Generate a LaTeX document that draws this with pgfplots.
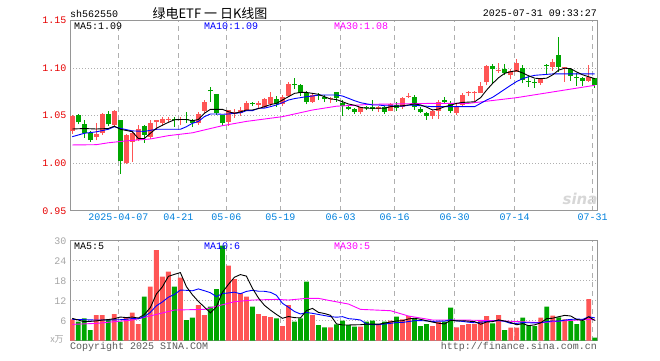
\documentclass[border=0pt]{standalone}
\usepackage{pgfplots}
\pgfplotsset{compat=1.18}
\usepackage{pgfplotstable}
\usepackage{fontspec}
\setmainfont{Liberation Mono}
\newfontfamily\cjk{Noto Sans CJK SC}
\newfontfamily\djv{DejaVu Sans}
\definecolor{cup}{RGB}{255,85,85}
\definecolor{cdn}{RGB}{0,166,0}
\definecolor{grd}{RGB}{175,175,175}
\definecolor{frm}{RGB}{150,150,150}
\definecolor{dblue}{RGB}{0,128,220}
\definecolor{tred}{RGB}{230,0,0}
\definecolor{mag}{RGB}{255,0,255}
\definecolor{vgray}{RGB}{165,165,165}
\definecolor{cgray}{RGB}{90,90,90}

% i open high low close volume
\pgfplotstableread{
i o h l c v
0 1.034 1.051 1.031 1.050 6.4
4 1.028 1.042 1.024 1.031 7.7
5 1.0315 1.053 1.030 1.0515 7.7
7 1.040 1.0565 1.039 1.055 8.0
9 1.0006 1.031 0.999 1.0297 6.9
10 1.0226 1.033 1.0016 1.0315 8.4
11 1.0244 1.040 1.023 1.0357 5.0
13 1.0279 1.0455 1.026 1.0426 16.2
14 1.043 1.046 1.035 1.0455 27.2
15 1.042 1.049 1.039 1.0463 19.2
16 1.0455 1.0485 1.043 1.046 20.7
18 1.045 1.049 1.040 1.0468 18.9
21 1.042 1.054 1.040 1.0517 10.7
22 1.0553 1.0665 1.053 1.0647 7.7
26 1.0437 1.0565 1.0395 1.056 22.5
27 1.0515 1.0575 1.048 1.0536 18.5
28 1.0525 1.0595 1.050 1.056 14.2
29 1.056 1.066 1.055 1.063 13.2
31 1.0613 1.065 1.058 1.0637 8.0
32 1.0595 1.069 1.058 1.0673 7.4
33 1.062 1.0753 1.0595 1.070 7.1
35 1.062 1.0715 1.060 1.0694 4.4
36 1.0707 1.0858 1.0694 1.0834 10.7
40 1.0647 1.0735 1.0635 1.0718 7.7
43 1.0675 1.070 1.063 1.0686 4.0
48 1.054 1.0595 1.0515 1.0588 4.2
51 1.0575 1.060 1.054 1.059 4.7
53 1.0553 1.0635 1.0545 1.0623 6.0
55 1.0595 1.070 1.057 1.0683 6.4
56 1.070 1.0735 1.0685 1.0712 7.4
60 1.050 1.0565 1.0465 1.0553 4.4
61 1.0553 1.0665 1.047 1.0647 5.7
64 1.0532 1.062 1.0505 1.0602 4.0
65 1.0613 1.0735 1.0605 1.0718 4.7
66 1.0735 1.0765 1.0705 1.0742 5.0
67 1.0735 1.0765 1.065 1.0745 5.0
68 1.0737 1.0855 1.0735 1.0813 6.0
69 1.0850 1.1035 1.082 1.1020 7.4
71 1.0970 1.1054 1.0953 1.0976 7.7
73 1.0925 1.0995 1.0885 1.0974 3.9
74 1.0963 1.1095 1.0960 1.1050 3.9
78 1.0842 1.0900 1.0826 1.0884 6.9
80 1.1016 1.110 1.0968 1.1068 7.5
82 1.1006 1.1016 1.0858 1.1016 6.4
86 1.0868 1.1034 1.0850 1.0910 12.5
}\up

\pgfplotstableread{
i o h l c v
1 1.051 1.052 1.041 1.043 5.7
2 1.041 1.0455 1.027 1.032 6.7
3 1.0315 1.034 1.0226 1.0244 3.2
6 1.0515 1.055 1.039 1.041 6.4
8 1.0455 1.046 0.9886 1.0026 5.7
12 1.0392 1.040 1.0216 1.0297 13.2
17 1.0465 1.049 1.038 1.0455 16.2
19 1.047 1.054 1.042 1.045 6.2
20 1.0455 1.047 1.038 1.0426 6.9
23 1.0765 1.080 1.0647 1.0755 10.2
24 1.0728 1.0728 1.0505 1.053 15.5
25 1.0507 1.051 1.039 1.0426 28.5
30 1.063 1.0645 1.060 1.062 10.2
34 1.0673 1.0705 1.0595 1.062 6.7
37 1.0834 1.090 1.078 1.0823 5.7
38 1.0823 1.083 1.0707 1.0742 6.7
39 1.0742 1.076 1.062 1.0647 17.7
41 1.0718 1.0735 1.0665 1.0708 4.7
42 1.070 1.072 1.064 1.0673 4.0
44 1.0746 1.075 1.0645 1.0683 4.9
45 1.063 1.0665 1.050 1.060 6.0
46 1.0588 1.060 1.0555 1.0567 4.7
47 1.0567 1.0585 1.052 1.0542 4.2
49 1.0590 1.0605 1.0560 1.0579 5.7
50 1.0595 1.0665 1.0545 1.0575 6.0
52 1.0592 1.060 1.052 1.0542 5.7
54 1.0613 1.0645 1.055 1.0578 7.2
57 1.0694 1.072 1.0565 1.0588 6.7
58 1.0567 1.0595 1.0525 1.0536 4.4
59 1.0532 1.054 1.0455 1.0497 5.0
62 1.067 1.0695 1.0625 1.0647 5.7
63 1.0637 1.066 1.0525 1.055 9.9
70 1.1027 1.1045 1.0847 1.0990 5.2
72 1.0990 1.1045 1.0925 1.0946 3.2
75 1.1000 1.103 1.084 1.0875 6.9
76 1.0870 1.0920 1.0805 1.0858 4.7
77 1.0855 1.0885 1.0795 1.0848 4.4
79 1.1030 1.1048 1.0933 1.1020 10.2
81 1.1139 1.1332 1.0963 1.1016 7.0
83 1.0988 1.1005 1.0865 1.0918 6.0
84 1.0910 1.0953 1.0816 1.0894 5.0
85 1.0894 1.0910 1.0816 1.0868 6.0
87 1.0894 1.0900 1.0795 1.0823 0.9
}\dn

\pgfplotstableread{
i v
0 1.036
2 1.0365
4 1.036
6 1.0365
7 1.039
8 1.0357
10 1.0332
11 1.026
12 1.026
13 1.0315
14 1.0367
15 1.040
16 1.043
17 1.0457
18 1.046
19 1.046
20 1.0447
21 1.046
22 1.0525
23 1.0567
24 1.0567
25 1.0567
26 1.0542
27 1.0525
28 1.054
29 1.056
30 1.056
31 1.0575
32 1.0595
33 1.0617
34 1.063
35 1.0665
36 1.070
37 1.0735
38 1.0745
39 1.0745
40 1.0735
41 1.0725
42 1.070
43 1.0676
44 1.067
45 1.0647
46 1.0623
47 1.061
48 1.0588
49 1.0578
50 1.0578
51 1.0578
52 1.0578
53 1.0595
54 1.060
55 1.0605
56 1.0613
57 1.0625
58 1.0613
59 1.059
60 1.056
61 1.057
62 1.0595
63 1.061
64 1.063
65 1.064
66 1.0643
67 1.0647
68 1.0690
69 1.0770
70 1.0840
71 1.0900
72 1.0946
73 1.0963
74 1.0974
75 1.095
76 1.092
77 1.0895
78 1.089
79 1.0895
80 1.093
81 1.098
82 1.100
83 1.0995
84 1.096
85 1.093
86 1.091
87 1.089
}\mafive

\pgfplotstableread{
i v
0 1.0279
2 1.0315
4 1.033
6 1.0357
7 1.0384
8 1.0367
10 1.034
12 1.0335
14 1.0357
18 1.0357
19 1.0384
20 1.042
21 1.044
22 1.049
23 1.0518
24 1.0518
25 1.0515
26 1.0518
27 1.0525
28 1.053
29 1.0553
30 1.0553
31 1.0578
32 1.058
33 1.0595
34 1.0613
35 1.0637
36 1.0665
37 1.068
38 1.069
39 1.070
40 1.0707
41 1.0718
44 1.0718
45 1.0707
46 1.0683
47 1.0658
48 1.0637
49 1.0625
50 1.0613
51 1.0613
52 1.0605
53 1.0605
54 1.060
55 1.060
56 1.061
57 1.061
58 1.0605
59 1.060
60 1.0595
67 1.0595
68 1.063
69 1.0665
70 1.0694
71 1.0735
72 1.0778
73 1.082
74 1.086
75 1.089
76 1.091
77 1.0925
78 1.093
79 1.0935
80 1.094
87 1.094
}\maten

\pgfplotstableread{
i v
0 1.0192
4 1.0195
6 1.0215
9 1.0235
13 1.0255
16 1.029
20 1.032
25 1.0395
29 1.044
35 1.049
40 1.056
44 1.060
50 1.062
60 1.063
66 1.063
70 1.066
74 1.069
80 1.075
85 1.080
87 1.082
}\mathirty

\pgfplotstableread{
i v
0 6.7
1 6.2
2 5.7
3 5.8
4 5.94
5 6.2
6 6.34
7 6.6
8 7.1
9 6.94
10 7.08
11 6.8
12 7.84
13 9.94
14 14.0
15 16.16
16 19.3
17 19.9
18 20.44
19 16.24
20 13.78
21 11.78
22 10.08
23 8.34
24 10.2
25 14.52
26 16.88
27 19.04
28 19.84
29 19.38
30 15.72
31 12.82
32 10.6
33 9.18
34 7.88
35 6.72
36 7.26
37 6.92
38 6.84
39 9.04
40 9.7
41 8.5
42 8.16
43 7.62
44 5.06
45 4.72
46 4.72
47 4.76
48 4.8
49 4.96
50 4.96
51 4.96
52 5.26
53 5.62
54 5.92
55 6.0
56 6.54
57 6.74
58 6.42
59 5.98
60 5.58
61 5.24
62 5.04
63 6.14
64 5.94
65 6.0
66 5.86
67 5.72
68 4.94
69 5.62
70 5.72
71 6.26
72 5.9
73 5.48
74 4.78
75 5.12
76 4.52
77 4.76
78 5.36
79 6.62
80 6.74
81 7.2
82 7.6
83 7.42
84 6.38
85 6.08
86 7.18
87 6.08
}\vfive

\pgfplotstableread{
i v
0 6.4
2 6.3
4 6.2
6 6.2
8 6.3
9 6.44
10 6.64
11 6.57
12 7.22
13 8.52
14 10.47
15 11.62
16 13.05
17 13.87
18 15.19
19 15.12
20 14.97
21 15.54
22 14.99
23 14.39
24 13.22
25 14.15
26 14.33
27 14.56
28 14.09
29 14.79
30 15.12
31 14.85
32 14.82
33 14.51
34 13.63
35 11.22
36 10.04
37 8.76
38 8.01
39 8.46
40 8.21
41 7.88
42 7.54
43 7.23
44 7.05
45 7.21
46 6.61
47 6.46
48 6.21
49 5.01
50 4.84
51 4.84
52 5.01
53 5.21
54 5.44
55 5.48
56 5.75
57 6.0
58 6.02
59 5.95
60 5.79
61 5.89
62 5.89
63 6.28
64 5.96
65 5.79
66 5.55
67 5.38
68 5.54
69 5.78
70 5.86
71 6.06
72 5.81
73 5.21
74 5.2
75 5.42
76 5.39
77 5.33
78 5.42
79 5.7
80 5.93
81 5.86
82 6.18
83 6.39
84 6.5
85 6.41
86 7.19
87 6.84
}\vten

\pgfplotstableread{
i v
0 4.9
4 5.2
10 6.2
12 7.0
17 9.2
22 9.4
27 11.7
30 12.2
34 12.4
36 12.2
39 12.7
41 12.7
43 12.0
46 11.0
48 9.4
53 9.0
56 7.4
60 6.2
65 6.2
71 6.0
78 5.4
82 6.0
86 6.4
87 6.3
}\vthirty

\pgfplotsset{
  kbase/.style={
    scale only axis, width=527pt,
    xmin=-0.38, xmax=87.38,
    axis line style={frm, line width=0.9pt},
    major tick length=0pt,
    xtick={7.67,17.67,25.67,34.67,44.67,53.67,63.67,73.67,86.67},
    xmajorgrids, ymajorgrids,
    major x grid style={grd, line width=0.8pt, dash pattern=on 5pt off 4pt},
    major y grid style={grd, line width=0.8pt, dash pattern=on 1pt off 2pt},
    ticklabel style={font=\fontsize{10}{10}\selectfont},
  },
  wick/.style={draw=none, mark=none, forget plot,
    error bars/.cd, y dir=plus, y explicit, error mark=none,
    error bar style={draw=#1, line width=1pt}},
  body/.style={draw=none, mark=none, forget plot,
    error bars/.cd, y dir=plus, y explicit, error mark=none,
    error bar style={draw=#1, line width=4.6pt}},
  maline/.style={draw=#1, line width=0.9pt, mark=none, forget plot},
}

\begin{document}
\begin{tikzpicture}
\path[use as bounding box] (0pt,0pt) rectangle (660pt,360pt);

\begin{axis}[kbase,
  at={(70pt,149.3pt)}, anchor=south west, height=190pt,
  ymin=0.95, ymax=1.15,
  ytick={0.95,1.00,1.05,1.10,1.15},
  yticklabels={0.95,1.00,1.05,1.10,1.15},
  yticklabel style={text=tred},
  xticklabels={2025-04-07,04-21,05-06,05-19,06-03,06-16,06-30,07-14,07-31},
  xticklabel style={text=dblue},
]
\addplot[wick=cup] table[x=i, y=l, y error plus expr=\thisrow{h}-\thisrow{l}] {\up};
\addplot[body=cup] table[x=i, y=o, y error plus expr={max(\thisrow{c}-\thisrow{o},0.0011)}] {\up};
\addplot[wick=cdn] table[x=i, y=l, y error plus expr=\thisrow{h}-\thisrow{l}] {\dn};
\addplot[body=cdn] table[x=i, y=c, y error plus expr={max(\thisrow{o}-\thisrow{c},0.0011)}] {\dn};
\addplot[maline=mag] table[x=i, y=v] {\mathirty};
\addplot[maline=blue] table[x=i, y=v] {\maten};
\addplot[maline=black] table[x=i, y=v] {\mafive};
\end{axis}

\begin{axis}[kbase,
  at={(70pt,19.3pt)}, anchor=south west, height=100pt,
  ymin=0, ymax=30,
  ytick={6,12,18,24,30},
  yticklabels={6,12,18,24,30},
  yticklabel style={text=vgray},
  xticklabels={},
]
\addplot[ybar, bar width=4.8pt, bar shift=0pt, fill=cup, draw=none, forget plot] table[x=i, y=v] {\up};
\addplot[ybar, bar width=4.8pt, bar shift=0pt, fill=cdn, draw=none, forget plot] table[x=i, y=v] {\dn};
\addplot[maline=mag] table[x=i, y=v] {\vthirty};
\addplot[maline=blue] table[x=i, y=v] {\vten};
\addplot[maline=black] table[x=i, y=v] {\vfive};
\end{axis}

% header
\node[anchor=west, inner sep=0pt, font=\fontsize{10}{10}\selectfont] at (70pt,346.5pt) {sh562550};
\node[inner sep=0pt, font=\cjk\fontsize{13}{13}\selectfont] at (210pt,346.5pt) {绿电ETF 一 日K线图};
\node[anchor=east, inner sep=0pt, font=\fontsize{10}{10}\selectfont] at (597pt,346.5pt) {2025-07-31 09:33:27};

% price legends
\node[anchor=west, inner sep=0pt, font=\fontsize{10}{10}\selectfont] at (74pt,334pt) {MA5:1.09};
\node[anchor=west, inner sep=0pt, text=blue, font=\fontsize{10}{10}\selectfont] at (204pt,334pt) {MA10:1.09};
\node[anchor=west, inner sep=0pt, text=mag, font=\fontsize{10}{10}\selectfont] at (334pt,334pt) {MA30:1.08};

% volume legends
\node[anchor=west, inner sep=0pt, font=\fontsize{10}{10}\selectfont] at (74pt,114pt) {MA5:5};
\node[anchor=west, inner sep=0pt, text=blue, font=\fontsize{10}{10}\selectfont] at (204pt,114pt) {MA10:6};
\node[anchor=west, inner sep=0pt, text=mag, font=\fontsize{10}{10}\selectfont] at (334pt,114pt) {MA30:5};

% footer
\node[inner sep=0pt, text=vgray, font=\cjk\fontsize{9}{9}\selectfont] at (57pt,21pt) {x万};
\node[anchor=west, inner sep=0pt, text=cgray, font=\fontsize{10}{10}\selectfont] at (70pt,13.5pt) {Copyright 2025 SINA.COM};
\node[anchor=east, inner sep=0pt, text=cgray, font=\fontsize{10}{10}\selectfont] at (597pt,13.5pt) {http://finance.sina.com.cn};

% watermark
\node[inner sep=0pt, text={rgb,255:red,215;green,215;blue,215}, font=\djv\bfseries\itshape\fontsize{15}{15}\selectfont] at (580pt,161pt) {sina};
\end{tikzpicture}
\end{document}
